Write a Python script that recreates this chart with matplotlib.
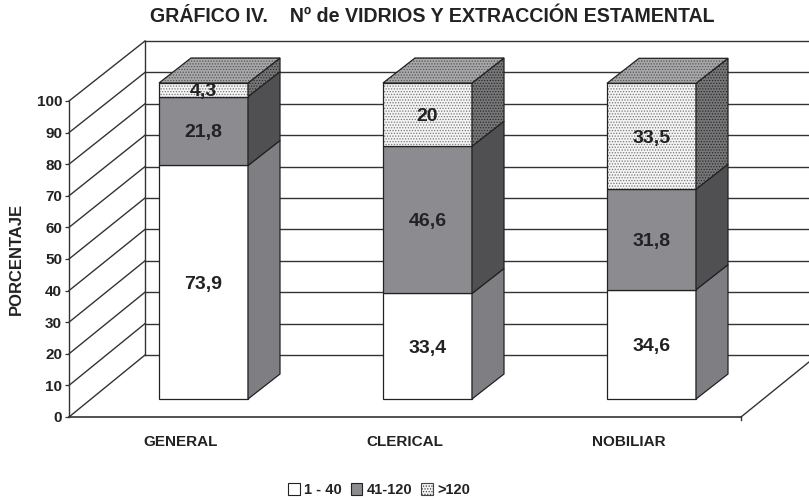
import matplotlib
matplotlib.use('Agg')
import matplotlib.pyplot as plt
from matplotlib.patches import Polygon, Patch

plt.rcParams['font.family'] = ['Liberation Sans', 'DejaVu Sans']
plt.rcParams['hatch.linewidth'] = 0.6

categories = ['GENERAL', 'CLERICAL', 'NOBILIAR']
series_names = ['1 - 40', '41-120', '>120']
low = [73.9, 33.4, 34.6]
mid = [21.8, 46.6, 31.8]
high = [4.3, 20, 33.5]
low_labels = ['73,9', '33,4', '34,6']
mid_labels = ['21,8', '46,6', '31,8']
high_labels = ['4,3', '20', '33,5']
y_ticks = list(range(0, 101, 10))

INK = '#222222'
LINE = '#333333'

fig = plt.figure(figsize=(8.09, 5), dpi=100)
# axes box = front plane of the fake 3D chart, in pixels of the reference
ax = fig.add_axes([69 / 809, 1 - 417 / 500, 672 / 809, 316 / 500])
ax.set_xlim(0, 3)
ax.set_ylim(0, 100)
for s in ax.spines.values():
    s.set_visible(False)
ax.spines['left'].set_visible(True)
ax.spines['bottom'].set_visible(True)
ax.spines['left'].set_color(LINE)
ax.spines['bottom'].set_color(LINE)
ax.spines['left'].set_linewidth(1.0)
ax.spines['bottom'].set_linewidth(1.2)

# depth of the wall and of the bars, in data units
wall_dx = 76 / 224
wall_dy = 62 / 3.16
wall_scale = 314 / 316
right = 3 + 68 / 224
bar_dx = 32 / 224
bar_dy = 25 / 3.16
bar_x0 = 90 / 224
bar_w = 89 / 224
base_y = 18 / 3.16

# back wall and grid
for v in y_ticks:
    back = wall_dy + v * wall_scale
    ax.plot([0, wall_dx], [v, back], color=LINE, lw=1.0, clip_on=False, zorder=1)
    ax.plot([wall_dx, right], [back, back], color=LINE, lw=1.0, clip_on=False, zorder=1)
ax.plot([wall_dx, wall_dx], [wall_dy, wall_dy + 100 * wall_scale], color=LINE, lw=1.0, clip_on=False, zorder=1)
ax.plot([3, right], [0, 55 / 3.16], color=LINE, lw=1.0, clip_on=False, zorder=1)
ax.plot([3, 3], [0, -1], color=LINE, lw=1.0, clip_on=False, zorder=1)


def add_poly(pts, face, hatch=None, hatch_color='#333333', z=3):
    if hatch:
        ax.add_patch(Polygon(pts, closed=True, facecolor=face, edgecolor=hatch_color, hatch=hatch,
                             lw=0, clip_on=False, zorder=z))
        ax.add_patch(Polygon(pts, closed=True, fill=False, edgecolor=INK, lw=0.9, clip_on=False, zorder=z))
    else:
        ax.add_patch(Polygon(pts, closed=True, facecolor=face, edgecolor=INK, lw=0.9, clip_on=False, zorder=z))


styles = [
    ('white', None, '#7e7e83', None),
    ('#8c8c90', None, '#505053', None),
    ('#f4f4f4', '......', '#77777a', '......'),
]

for i, cat in enumerate(categories):
    x0 = i + bar_x0
    x1 = x0 + bar_w
    bottom = base_y
    for values, labels, st in zip([low, mid, high], [low_labels, mid_labels, high_labels], styles):
        top = bottom + values[i]
        add_poly([(x0, bottom), (x1, bottom), (x1, top), (x0, top)], st[0], st[1], '#777777')
        add_poly([(x1, bottom), (x1 + bar_dx, bottom + bar_dy), (x1 + bar_dx, top + bar_dy), (x1, top)],
                 st[2], st[3], '#2a2a2a')
        ax.text((x0 + x1) / 2, (bottom + top) / 2 - 0.6, labels[i], ha='center', va='center',
                fontsize=14, fontweight='bold', color=INK, zorder=6, clip_on=False)
        bottom = top
    add_poly([(x0, bottom), (x1, bottom), (x1 + bar_dx, bottom + bar_dy), (x0 + bar_dx, bottom + bar_dy)],
             '#a8a8aa', '......', '#555555')

ax.set_xticks([0.5, 1.5, 2.5])
ax.set_xticklabels(categories, fontsize=11, fontweight='bold', color=INK)
ax.tick_params(axis='x', length=0, pad=13)
ax.set_yticks(y_ticks)
ax.set_yticklabels([str(v) for v in y_ticks], fontsize=11, fontweight='bold', color=INK)
ax.tick_params(axis='y', length=3, width=0.9, color=LINE, pad=2)
ax.set_ylabel('PORCENTAJE', fontsize=12, fontweight='bold', color=INK)
ax.yaxis.set_label_coords(-45 / 672, 0.5)

fig.text(432 / 809, 1 - 16 / 500, 'GRÁFICO IV.    Nº de VIDRIOS Y EXTRACCIÓN ESTAMENTAL',
         ha='center', va='center', fontsize=14.1, fontweight='bold', color=INK)

handles = [
    Patch(facecolor='white', edgecolor=INK, lw=0.8),
    Patch(facecolor='#8c8c90', edgecolor=INK, lw=0.8),
    Patch(facecolor='#f4f4f4', edgecolor='#444444', hatch='......', lw=0.8),
]
fig.legend(handles, series_names, ncol=3, frameon=False, loc='center', bbox_to_anchor=(379 / 809, 1 - 490 / 500),
           prop={'size': 10.5, 'weight': 'bold'}, handlelength=0.8, handleheight=0.8, handletextpad=0.3,
           columnspacing=0.6, labelcolor=INK)

fig.savefig('out.png', dpi=100)
